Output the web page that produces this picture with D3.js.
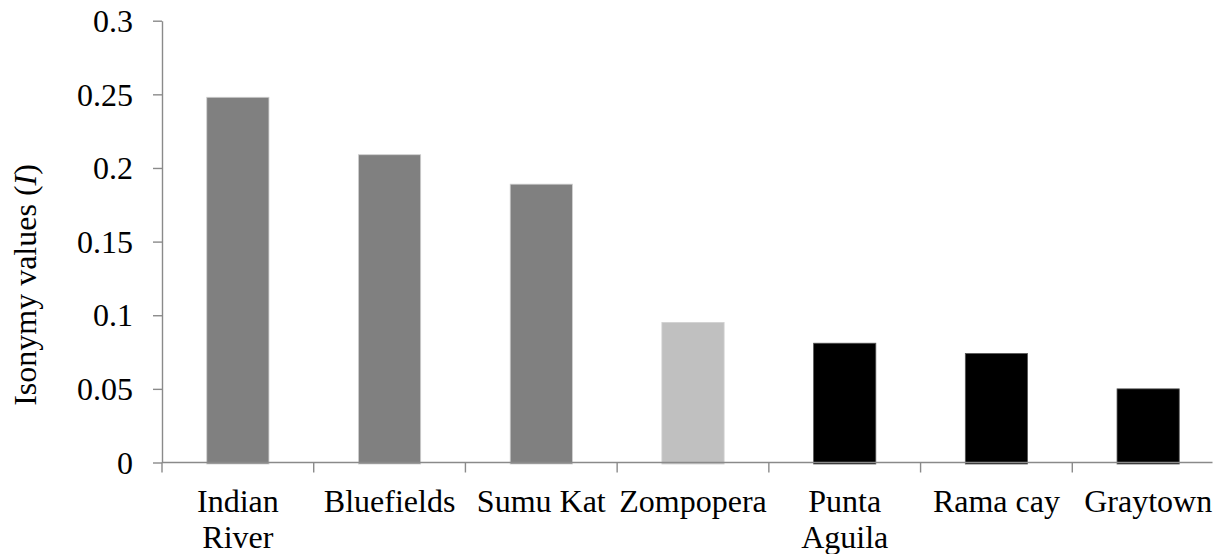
<!DOCTYPE html>
<html>
<head>
<meta charset="utf-8">
<script src="https://cdn.jsdelivr.net/npm/d3@7"></script>
<style>
  html, body { margin: 0; padding: 0; background: #fff; }
  #wrap { position: relative; width: 1222px; height: 554px; overflow: hidden; }
  svg { display: block; position: absolute; left: 0; top: 0; }
  .lbl { position: absolute; font-family: 'Liberation Serif'; font-size: 32px; line-height: 36.3px; color: #000; white-space: nowrap; }
</style>
</head>
<body>
<div id="wrap"><svg id="chart" width="1222" height="554"></svg></div>
<script>
// ---- data ----
const categories = ["Indian River", "Bluefields", "Sumu Kat", "Zompopera", "Punta Aguila", "Rama cay", "Graytown"];
const tickLabelLines = [["Indian", "River"], ["Bluefields"], ["Sumu Kat"], ["Zompopera"], ["Punta", "Aguila"], ["Rama cay"], ["Graytown"]];
const values = [0.248, 0.209, 0.189, 0.095, 0.081, 0.074, 0.050];
const barColors = ["#808080", "#808080", "#808080", "#c0c0c0", "#000000", "#000000", "#000000"];
const yTicks = [0, 0.05, 0.1, 0.15, 0.2, 0.25, 0.3];
const yTickLabels = ["0", "0.05", "0.1", "0.15", "0.2", "0.25", "0.3"];
const yTitle = "Isonymy values (";
const yTitleItalic = "I";
const yTitleEnd = ")";

// ---- layout ----
const FONT = "'Liberation Serif'";
const wrap = d3.select("#wrap");
const svg = d3.select("#chart");
const plotLeft = 162, plotRight = 1224, plotTop = 20.7, plotBottom = 462.5;
const axisColor = "#8a8a8a";
const baselineOffset = 28.95; // px from line-box top to baseline (32px font, 36.3px line-height)

const y = d3.scaleLinear().domain([0, 0.3]).range([plotBottom, plotTop]);
const x = d3.scaleBand().domain(categories).range([plotLeft, plotRight]).paddingInner(0.59).paddingOuter(0.295);

// bars
svg.append("g").selectAll("rect")
  .data(categories)
  .join("rect")
  .attr("x", (d) => x(d))
  .attr("width", x.bandwidth())
  .attr("y", (d, i) => y(values[i]))
  .attr("height", (d, i) => y(0) - y(values[i]) + 1.5)
  .attr("fill", (d, i) => barColors[i])
  .attr("stroke", (d, i) => barColors[i] === "#000000" ? "#555" : "#cfcfcf")
  .attr("stroke-width", 0.8);

// y axis (lines via d3 axis, labels as HTML text)
const yAxis = d3.axisLeft(y)
  .tickValues(yTicks)
  .tickFormat("")
  .tickSize(9)
  .tickSizeOuter(0);
const gy = svg.append("g").attr("transform", `translate(${plotLeft},0)`).call(yAxis);
gy.select(".domain").attr("stroke", axisColor).attr("stroke-width", 1.4);
gy.selectAll(".tick line").attr("stroke", axisColor).attr("stroke-width", 1.4);
gy.selectAll(".tick text").remove();

wrap.selectAll("div.ytick")
  .data(yTicks)
  .join("div")
  .attr("class", "lbl ytick")
  .attr("style", (d) => `font-family:${FONT};right:${1222 - (plotLeft - 9 - 20)}px;top:${y(d) + 11.2 - baselineOffset}px;text-align:right`)
  .text((d, i) => yTickLabels[i]);

// x axis line
svg.append("line")
  .attr("x1", plotLeft).attr("x2", 1212.5)
  .attr("y1", y(0)).attr("y2", y(0))
  .attr("stroke", axisColor).attr("stroke-width", 1.4);

// x category boundary ticks
const boundaries = d3.range(categories.length + 1).map((i) => x.range()[0] + i * x.step());
svg.append("g").selectAll("line")
  .data(boundaries)
  .join("line")
  .attr("x1", (d) => d).attr("x2", (d) => d)
  .attr("y1", y(0)).attr("y2", y(0) + 10)
  .attr("stroke", axisColor).attr("stroke-width", 1.4);

// x labels
categories.forEach((c, i) => {
  const cx = x(c) + x.bandwidth() / 2;
  tickLabelLines[i].forEach((line, j) => {
    wrap.append("div")
      .attr("class", "lbl xtick")
      .attr("style", `font-family:${FONT};left:${cx}px;top:${511.7 + j * 36.3 - baselineOffset}px;transform:translateX(-50%)`)
      .text(line);
  });
});

// y title
const yt = wrap.append("div")
  .attr("class", "lbl ytitle")
  .attr("style", `font-family:${FONT};left:${36 - (baselineOffset - 36.3 / 2)}px;top:285px;transform:translate(-50%, -50%) rotate(-90deg)`);
yt.append("span").text(yTitle);
yt.append("span").style("font-style", "italic").text(yTitleItalic);
yt.append("span").text(yTitleEnd);
</script>
</body>
</html>
